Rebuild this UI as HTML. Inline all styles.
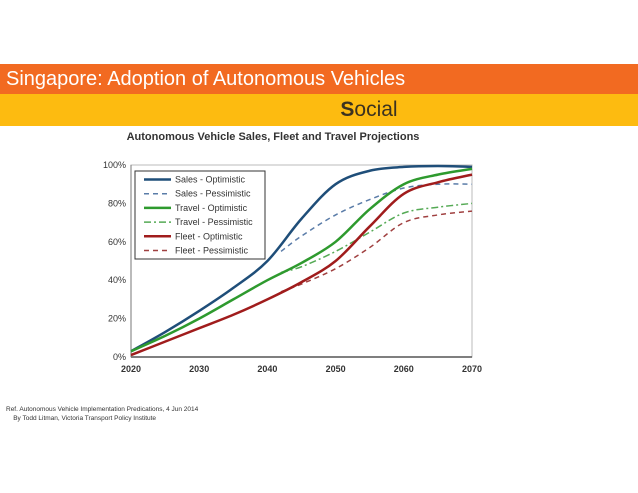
<!DOCTYPE html>
<html><head><meta charset="utf-8"><style>
body{margin:0;width:638px;height:493px;background:#fff;font-family:"Liberation Sans",sans-serif;position:relative;overflow:hidden}
.b1{position:absolute;left:0;top:64px;width:638px;height:30px;background:#f26a21;color:#fff;font-size:20px;line-height:30px;padding-left:6px;box-sizing:border-box}
.b2{position:absolute;left:0;top:94px;width:638px;height:32px;background:#fdbb10;color:#3b3220;font-size:21px;line-height:32px;text-align:center;padding-left:100px;box-sizing:border-box}
.t{position:absolute;left:120px;width:306px;top:131px;text-align:center;font-size:11px;font-weight:bold;color:#333;white-space:nowrap}
.ref{position:absolute;left:6px;top:405px;font-size:6.5px;color:#333;line-height:9px}
svg{position:absolute;left:0;top:0}
</style></head><body>
<div class="b1">Singapore: Adoption of Autonomous Vehicles</div>
<div class="b2"><b>S</b>ocial</div>
<div class="t">Autonomous Vehicle Sales, Fleet and Travel Projections</div>
<svg id="c" width="638" height="493"></svg>
<div class="ref">Ref. Autonomous Vehicle Implementation Predications, 4 Jun 2014<br>&nbsp;&nbsp;&nbsp;&nbsp;By Todd Litman, Victoria Transport Policy Institute</div>
<script>
const years=[2020,2025,2030,2035,2040,2045,2050,2055,2060,2065,2070];
const pessYears=[2042,2045,2050,2055,2060,2065,2070];
const salesOpt=[3,13,24,36,50,72,90,97,99,99.5,99];
const salesPess=[55,63,74,82,88,90,90];
const travelOpt=[3,11,20,30,40,49,60,77,90,95,98];
const travelPess=[44,47,55,65,75,78,80];
const fleetOpt=[1,8,15,22,30,39,50,68,85,91,95];
const fleetPess=[34,38,46,57,70,74,76];
const xTicks=[2020,2030,2040,2050,2060,2070];
const yTicks=[0,20,40,60,80,100];
const X0=131,X1=472,Y0=357,Y1=165;
const sx=v=>X0+(v-2020)/50*(X1-X0), sy=v=>Y0-v/100*(Y0-Y1);
const svg=document.getElementById('c');const NS='http://www.w3.org/2000/svg';
function mk(t,a){const e=document.createElementNS(NS,t);for(const k in a)e.setAttribute(k,a[k]);svg.appendChild(e);return e;}
let e=mk('rect',{x:X0,y:Y1,width:X1-X0,height:Y0-Y1,fill:'none',stroke:'#bbb','stroke-width':1});


yTicks.forEach(v=>{const t=mk('text',{x:X0-5,y:sy(v)+3,'text-anchor':'end','font-size':9,fill:'#333'});t.textContent=v+'%';

});
xTicks.forEach(v=>{const t=mk('text',{x:sx(v),y:Y0+15,'text-anchor':'middle','font-size':9,'font-weight':'bold',fill:'#333'});t.textContent=v;

});
mk('line',{x1:X0,y1:Y0,x2:X1,y2:Y0,stroke:'#555','stroke-width':1.5});
mk('line',{x1:X0,y1:Y0,x2:X0,y2:Y1,stroke:'#777','stroke-width':1});
function path(xs,ys){const p=xs.map((x,i)=>[sx(x),sy(ys[i])]);let d='M'+p[0];for(let i=0;i<p.length-1;i++){const a=p[i-1]||p[i],b=p[i],c=p[i+1],n=p[i+2]||c;
d+=' C'+(b[0]+(c[0]-a[0])/6)+','+(b[1]+(c[1]-a[1])/6)+' '+(c[0]-(n[0]-b[0])/6)+','+(c[1]-(n[1]-b[1])/6)+' '+c;}return d;}
const series=[
[pessYears,salesPess,'#5a7ca8',1.5,'5,4','sales-pessimistic-line'],
[pessYears,travelPess,'#55aa55',1.5,'7,3,2,3','travel-pessimistic-line'],
[pessYears,fleetPess,'#a04040',1.5,'5,4','fleet-pessimistic-line'],
[years,salesOpt,'#1f4e79',2.5,'','sales-optimistic-line'],
[years,travelOpt,'#2e9a2e',2.5,'','travel-optimistic-line'],
[years,fleetOpt,'#a01c1c',2.5,'','fleet-optimistic-line']];
series.forEach(s=>{const p=mk('path',{d:path(s[0],s[1]),fill:'none',stroke:s[2],'stroke-width':s[3],'stroke-dasharray':s[4]});

});
const lg=mk('rect',{x:135,y:171,width:130,height:88,fill:'#fff',stroke:'#333','stroke-width':1});


const leg=[['Sales - Optimistic','#1f4e79',2.5,''],['Sales - Pessimistic','#5a7ca8',1.5,'5,4'],['Travel - Optimistic','#2e9a2e',2.5,''],['Travel -  Pessimistic','#55aa55',1.5,'7,3,2,3'],['Fleet - Optimistic','#a01c1c',2.5,''],['Fleet -  Pessimistic','#a04040',1.5,'5,4']];
leg.forEach((l,i)=>{const y=179.5+i*14.2;mk('line',{x1:144,y1:y,x2:171,y2:y,stroke:l[1],'stroke-width':l[2],'stroke-dasharray':l[3]});
const t=mk('text',{x:175,y:y+3,'font-size':9,fill:'#333'});t.textContent=l[0];

});
</script>
</body></html>
